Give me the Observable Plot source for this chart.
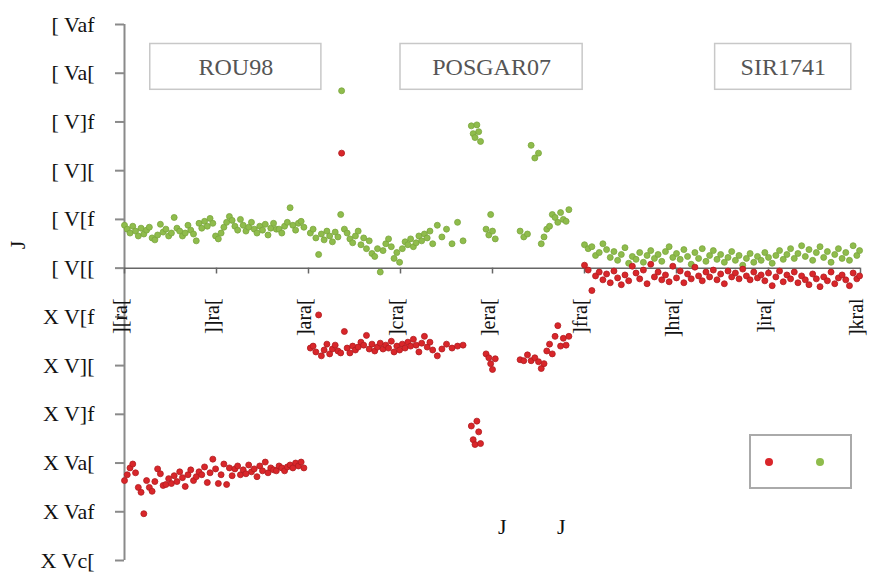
<!DOCTYPE html>
<html>
<head>
<meta charset="utf-8">
<script src="https://cdn.jsdelivr.net/npm/d3@7"></script>
<script src="https://cdn.jsdelivr.net/npm/@observablehq/plot@0.6"></script>
<style>
  html, body { margin: 0; padding: 0; background: #fff; }
  #wrap { position: relative; width: 869px; height: 574px; font-family: "Liberation Serif", "DejaVu Serif", serif; }
  #wrap svg text { font-family: "Liberation Serif", "DejaVu Serif", serif; }
  #legend { position: absolute; left: 749px; top: 434px; width: 99px; height: 51px; border: 2px solid #aaa; background: #fff; }
  .ldot { position: absolute; top: 22px; width: 8px; height: 8px; border-radius: 50%; }
  .xt { position: absolute; top: 514px; font-size: 22px; color: #111; }
  .yt { position: absolute; left: 14px; top: 232px; font-size: 22px; color: #111; transform: rotate(-90deg); }
</style>
</head>
<body>
<div id="wrap"></div>
<script>
// ---- data ----
const panels = ["ROU98", "POSGAR07", "SIR1741"];
const seriesNames = ["red", "green"];
const yTicks = [0.25, 0.20, 0.15, 0.10, 0.05, 0.00, -0.05, -0.10, -0.15, -0.20, -0.25, -0.30];
const yLabels = ["[ Vaf", "[ Va[", "[ V]f", "[ V][", "[ V[f", "[ V[[", "X V[f", "X V][", "X V]f", "X Va[", "X Vaf", "X Vc["];
const xTicks = [10, 11, 12, 13, 14, 15, 16, 17, 18];
const xLabels = ["][ra[", "]]ra[", "]ara[", "]cra[", "]era[", "]fra[", "]hra[", "]ira[", "]kral"];

const rouX = [10.00,10.03,10.06,10.09,10.12,10.15,10.18,10.21,10.24,10.27,10.30,10.33,10.36,10.39,10.42,10.45,10.48,10.51,10.54,10.57,10.60,10.63,10.66,10.69,10.72,10.75,10.78,10.81,10.84,10.87,10.90,10.93,10.96,10.99,11.02,11.05,11.08,11.11,11.14,11.17,11.20,11.23,11.26,11.29,11.32,11.35,11.38,11.41,11.44,11.47,11.50,11.53,11.56,11.59,11.62,11.65,11.68,11.71,11.74,11.77,11.80,11.83,11.86,11.89,11.92,11.95];
const rouGreen = [.044,.040,.036,.043,.038,.033,.041,.035,.039,.042,.031,.029,.034,.045,.037,.040,.033,.036,.052,.041,.038,.033,.036,.044,.039,.035,.028,.046,.041,.048,.043,.051,.046,.033,.030,.036,.042,.047,.053,.049,.043,.039,.050,.044,.038,.042,.047,.040,.036,.043,.039,.045,.034,.041,.046,.040,.040,.036,.043,.047,.062,.044,.039,.046,.048,.042];
const rouRed = [-.218,-.212,-.205,-.201,-.210,-.225,-.230,-.252,-.218,-.225,-.229,-.219,-.206,-.211,-.223,-.222,-.216,-.221,-.213,-.219,-.209,-.215,-.224,-.212,-.207,-.218,-.214,-.209,-.212,-.204,-.220,-.210,-.196,-.206,-.221,-.212,-.201,-.222,-.205,-.213,-.206,-.203,-.212,-.207,-.211,-.202,-.209,-.206,-.214,-.203,-.208,-.199,-.210,-.205,-.207,-.208,-.203,-.205,-.208,-.204,-.202,-.205,-.200,-.203,-.199,-.205];

const posX = [12.02,12.05,12.08,12.11,12.14,12.17,12.20,12.23,12.26,12.29,12.32,12.35,12.36,12.39,12.42,12.45,12.48,12.51,12.54,12.57,12.60,12.63,12.66,12.69,12.72,12.75,12.78,12.81,12.84,12.87,12.90,12.93,12.96,12.99,13.02,13.05,13.08,13.11,13.14,13.17,13.20,13.23,13.26,13.29,13.32,13.35,13.40,13.45,13.50,13.56,13.62,13.68,13.77,13.79,13.81,13.83,13.85,13.87,13.93,13.96,13.98,14.00,14.03,14.30,14.34,14.38,14.42,14.46,14.50,14.53,14.56,14.59,14.62,14.65,14.68,14.71,14.74,14.77,14.80,14.83];
const posGreen = [.036,.040,.031,.014,.035,.029,.038,.033,.027,.037,.032,.055,.182,.040,.036,.030,.026,.033,.038,.024,.031,.020,.028,.015,.012,.020,-.004,.018,.025,.030,.022,.010,.016,.006,.020,.027,.024,.030,.022,.026,.033,.028,.035,.031,.038,.025,.044,.032,.040,.025,.047,.028,.146,.138,.134,.147,.140,.130,.040,.034,.055,.038,.030,.038,.032,.035,.126,.113,.118,.025,.032,.040,.043,.055,.052,.047,.057,.050,.048,.060];
const posRed = [-.082,-.080,-.086,-.048,-.090,-.084,-.078,-.088,-.083,-.079,-.085,-.087,.118,-.065,-.082,-.087,-.080,-.084,-.081,-.076,-.079,-.069,-.083,-.078,-.085,-.081,-.077,-.083,-.079,-.082,-.075,-.086,-.080,-.084,-.078,-.082,-.076,-.080,-.073,-.079,-.086,-.077,-.070,-.081,-.076,-.084,-.090,-.083,-.078,-.082,-.080,-.079,-.162,-.176,-.181,-.157,-.168,-.180,-.088,-.092,-.098,-.104,-.093,-.094,-.095,-.089,-.095,-.092,-.096,-.103,-.098,-.085,-.078,-.088,-.070,-.059,-.080,-.072,-.079,-.070];

const sirX = [15.00,15.04,15.08,15.12,15.16,15.20,15.24,15.28,15.32,15.36,15.40,15.44,15.48,15.52,15.56,15.60,15.64,15.68,15.72,15.76,15.80,15.84,15.88,15.92,15.96,16.00,16.04,16.08,16.12,16.16,16.20,16.24,16.28,16.32,16.36,16.40,16.44,16.48,16.52,16.56,16.60,16.64,16.68,16.72,16.76,16.80,16.84,16.88,16.92,16.96,17.00,17.04,17.08,17.12,17.16,17.20,17.24,17.28,17.32,17.36,17.40,17.44,17.48,17.52,17.56,17.60,17.64,17.68,17.72,17.76,17.80,17.84,17.88,17.92,17.96,17.99];
const sirGreen = [.024,.020,.022,.013,.016,.025,.019,.011,.017,.008,.014,.021,.005,.012,.009,.016,.006,.013,.018,.010,.014,.007,.017,.022,.011,.015,.009,.019,.012,.004,.016,.010,.020,.007,.013,.018,.009,.014,.006,.011,.017,.008,.013,.003,.010,.015,.006,.012,.008,.016,.011,.005,.013,.018,.009,.014,.020,.010,.015,.023,.012,.019,.008,.016,.022,.011,.017,.006,.014,.020,.010,.016,.008,.023,.013,.018];
const sirRed = [.003,-.002,-.023,-.008,-.004,-.012,-.006,-.015,-.003,-.010,-.017,-.007,-.013,.002,-.005,-.011,-.002,-.016,.004,-.009,-.004,-.012,-.007,-.014,.002,-.010,-.003,-.015,-.006,-.011,.001,-.008,-.013,-.004,-.009,-.002,-.012,-.006,-.016,-.003,-.009,-.005,-.011,-.001,-.008,-.012,-.004,-.010,-.007,-.013,-.005,-.018,-.009,-.003,-.014,-.007,-.011,-.004,-.015,-.008,-.012,-.017,-.006,-.011,-.019,-.009,-.013,-.004,-.016,-.010,-.007,-.012,-.018,-.005,-.011,-.008];

// ---- build table ----
const rows = [];
function add(xs, ys, s) { xs.forEach((x, i) => { if (ys[i] != null) rows.push({x, y: ys[i], s}); }); }
add(rouX, rouGreen, "green"); add(posX, posGreen, "green"); add(sirX, sirGreen, "green");
add(rouX, rouRed, "red"); add(posX, posRed, "red"); add(sirX, sirRed, "red");

const colors = {red: "#d9262a", green: "#8fbc4c"};
const strokes = {red: "#b01c1f", green: "#7aa63c"};

const boxes = [
  {name: panels[0], x1: 10.28, x2: 12.14},
  {name: panels[1], x1: 13.00, x2: 14.98},
  {name: panels[2], x1: 16.42, x2: 17.90}
];

const font = "'Liberation Serif', 'DejaVu Serif', serif";
const chart = Plot.plot({
  width: 869, height: 574,
  marginLeft: 124, marginRight: 9, marginTop: 24, marginBottom: 14,
  x: {domain: [10, 18], axis: null},
  y: {domain: [-0.30, 0.25], axis: null},
  style: {fontFamily: font, background: "#fff"},
  marks: [
    Plot.ruleX([10], {stroke: "#8a8a8a", strokeWidth: 2}),
    Plot.axisY(yTicks, {label: null, tickFormat: (d, i) => yLabels[i], stroke: "#8a8a8a", strokeWidth: 2, tickSize: 9, tickPadding: 21, fontSize: 22, letterSpacing: 1.5, fill: "#111", textStroke: "none"}),
    Plot.ruleY([0], {stroke: "#666", strokeWidth: 1.5}),
    Plot.ruleX(xTicks, {y1: 0, y2: -0.006, stroke: "#666", strokeWidth: 1.5}),
    Plot.text(xTicks, {x: d => d, y: -0.031, text: (d, i) => xLabels[i], rotate: -90, textAnchor: "end", dx: -4, fontSize: 20, fill: "#111"}),
    Plot.rect(boxes, {x1: "x1", x2: "x2", y1: 0.2065 - 0.0235, y2: 0.2065 + 0.0235, fill: "#fff", stroke: "#c8c8c8", strokeWidth: 1.5}),
    Plot.text(boxes, {x: d => (d.x1 + d.x2) / 2, y: 0.2065, text: "name", fontSize: 24, fill: "#555", letterSpacing: 1.5}),
    Plot.dot(rows, {x: "x", y: "y", r: 3, fill: d => colors[d.s], stroke: d => strokes[d.s], strokeWidth: 0.8})
  ]
});

const wrap = document.getElementById("wrap");
wrap.appendChild(chart);
const leg = document.createElement("div");
leg.id = "legend";
leg.innerHTML = `<span class="ldot" style="left:14px;background:${colors[seriesNames[0]]}" title="${seriesNames[0]}"></span><span class="ldot" style="left:65px;background:${colors[seriesNames[1]]}" title="${seriesNames[1]}"></span>`;
wrap.appendChild(leg);
for (const [left, t] of [[498, "J"], [557, "J"]]) {
  const el = document.createElement("div"); el.className = "xt"; el.style.left = left + "px"; el.textContent = t; wrap.appendChild(el);
}
const yt = document.createElement("div"); yt.className = "yt"; yt.textContent = "J"; wrap.appendChild(yt);
</script>
</body>
</html>
